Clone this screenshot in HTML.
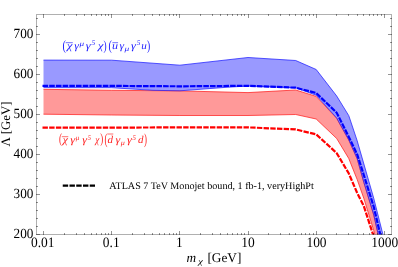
<!DOCTYPE html>
<html><head><meta charset="utf-8"><style>
html,body{margin:0;padding:0;background:#fff;}
svg{display:block;font-family:"Liberation Serif",serif;text-rendering:geometricPrecision;will-change:transform;}
</style></head><body>
<svg width="398" height="267" viewBox="0 0 398 267">
<rect width="398" height="267" fill="#fff"/>
<defs><clipPath id="c"><rect x="36.5" y="14.6" width="355.0" height="219.8"/></clipPath></defs>
<g clip-path="url(#c)">
<polygon points="43.5,89.3 111.7,90.3 179.9,90.9 248.0,92.6 295.7,90.0 316.2,96.4 336.7,118.4 348.7,140.0 357.2,158.9 363.8,182.4 373.8,215.3 384.4,261.9 384.4,272.0 373.8,230.7 363.8,198.3 357.2,179.6 348.7,158.4 336.7,138.5 316.2,119.0 295.7,114.5 248.0,115.5 179.9,115.5 111.7,115.0 43.5,114.2" fill="#ff9999"/>
<polygon points="43.5,60.1 111.7,60.2 179.9,65.2 248.0,57.5 295.7,60.5 316.2,69.5 336.7,96.0 348.8,115.7 357.2,140.8 373.8,198.5 384.4,240.3 384.4,261.5 373.8,214.9 363.8,182.0 357.2,158.5 348.7,139.6 336.7,118.0 316.2,95.2 295.7,87.8 248.0,86.0 228.0,87.2 179.9,90.8 153.0,90.3 111.7,87.7 43.5,87.6" fill="#9999ff"/>
<g fill="none" stroke-width="0.75">
<polyline points="43.5,89.3 111.7,90.3 179.9,90.9 248.0,92.6 295.7,90.0 316.2,96.4 336.7,118.4 348.7,140.0 357.2,158.9 363.8,182.4 373.8,215.3 384.4,261.9" stroke="#ff2020"/>
<polyline points="43.5,114.2 111.7,115.0 179.9,115.5 248.0,115.5 295.7,114.5 316.2,119.0 336.7,138.5 348.7,158.4 357.2,179.6 363.8,198.3 373.8,230.7 384.4,272.0" stroke="#ff2020"/>
<polyline points="43.5,60.1 111.7,60.2 179.9,65.2 248.0,57.5 295.7,60.5 316.2,69.5 336.7,96.0 348.8,115.7 357.2,140.8 373.8,198.5 384.4,240.3" stroke="#2020ff"/>
<polyline points="43.5,87.6 111.7,87.7 153.0,90.3 179.9,90.8 228.0,87.2 248.0,86.0 295.7,87.8 316.2,95.2 336.7,118.0 348.7,139.6 357.2,158.5 363.8,182.0 373.8,214.9 384.4,261.5" stroke="#2020ff"/>
</g>
<polyline points="42.5,127.6 111.7,127.6 179.9,127.4 248.0,127.4 295.7,129.4 316.2,134.4 336.7,153.1 348.7,173.3 357.2,193.0 363.8,206.0 373.8,236.9 384.4,270.6" fill="none" stroke="#ff0000" stroke-width="2.2" stroke-dasharray="5.4 1.3"/>
<polyline points="42.5,85.9 111.7,85.9 179.9,86.3 248.0,85.8 295.7,87.7 316.2,93.0 336.7,112.8 348.7,136.7 357.2,154.5 363.8,175.0 373.8,207.0 384.4,252.0" fill="none" stroke="#0000ff" stroke-width="2.2" stroke-dasharray="5.6 1.1"/>
</g>
<g stroke="#000" stroke-opacity="0.31" stroke-width="1" fill="none">
<rect x="36.5" y="14.5" width="355.0" height="220.0"/>
</g>
<g stroke="#000" stroke-opacity="0.42" stroke-width="1" fill="none">
<line x1="36.0" y1="234.5" x2="40.0" y2="234.5"/><line x1="392.0" y1="234.5" x2="388.0" y2="234.5"/><line x1="36.0" y1="226.5" x2="38.0" y2="226.5"/><line x1="392.0" y1="226.5" x2="390.0" y2="226.5"/><line x1="36.0" y1="218.5" x2="38.0" y2="218.5"/><line x1="392.0" y1="218.5" x2="390.0" y2="218.5"/><line x1="36.0" y1="210.5" x2="38.0" y2="210.5"/><line x1="392.0" y1="210.5" x2="390.0" y2="210.5"/><line x1="36.0" y1="202.5" x2="38.0" y2="202.5"/><line x1="392.0" y1="202.5" x2="390.0" y2="202.5"/><line x1="36.0" y1="194.5" x2="40.0" y2="194.5"/><line x1="392.0" y1="194.5" x2="388.0" y2="194.5"/><line x1="36.0" y1="186.5" x2="38.0" y2="186.5"/><line x1="392.0" y1="186.5" x2="390.0" y2="186.5"/><line x1="36.0" y1="178.5" x2="38.0" y2="178.5"/><line x1="392.0" y1="178.5" x2="390.0" y2="178.5"/><line x1="36.0" y1="170.5" x2="38.0" y2="170.5"/><line x1="392.0" y1="170.5" x2="390.0" y2="170.5"/><line x1="36.0" y1="162.5" x2="38.0" y2="162.5"/><line x1="392.0" y1="162.5" x2="390.0" y2="162.5"/><line x1="36.0" y1="154.5" x2="40.0" y2="154.5"/><line x1="392.0" y1="154.5" x2="388.0" y2="154.5"/><line x1="36.0" y1="146.5" x2="38.0" y2="146.5"/><line x1="392.0" y1="146.5" x2="390.0" y2="146.5"/><line x1="36.0" y1="138.5" x2="38.0" y2="138.5"/><line x1="392.0" y1="138.5" x2="390.0" y2="138.5"/><line x1="36.0" y1="130.5" x2="38.0" y2="130.5"/><line x1="392.0" y1="130.5" x2="390.0" y2="130.5"/><line x1="36.0" y1="122.5" x2="38.0" y2="122.5"/><line x1="392.0" y1="122.5" x2="390.0" y2="122.5"/><line x1="36.0" y1="114.5" x2="40.0" y2="114.5"/><line x1="392.0" y1="114.5" x2="388.0" y2="114.5"/><line x1="36.0" y1="106.5" x2="38.0" y2="106.5"/><line x1="392.0" y1="106.5" x2="390.0" y2="106.5"/><line x1="36.0" y1="98.5" x2="38.0" y2="98.5"/><line x1="392.0" y1="98.5" x2="390.0" y2="98.5"/><line x1="36.0" y1="90.5" x2="38.0" y2="90.5"/><line x1="392.0" y1="90.5" x2="390.0" y2="90.5"/><line x1="36.0" y1="82.5" x2="38.0" y2="82.5"/><line x1="392.0" y1="82.5" x2="390.0" y2="82.5"/><line x1="36.0" y1="74.5" x2="40.0" y2="74.5"/><line x1="392.0" y1="74.5" x2="388.0" y2="74.5"/><line x1="36.0" y1="66.5" x2="38.0" y2="66.5"/><line x1="392.0" y1="66.5" x2="390.0" y2="66.5"/><line x1="36.0" y1="58.5" x2="38.0" y2="58.5"/><line x1="392.0" y1="58.5" x2="390.0" y2="58.5"/><line x1="36.0" y1="50.5" x2="38.0" y2="50.5"/><line x1="392.0" y1="50.5" x2="390.0" y2="50.5"/><line x1="36.0" y1="42.5" x2="38.0" y2="42.5"/><line x1="392.0" y1="42.5" x2="390.0" y2="42.5"/><line x1="36.0" y1="34.5" x2="40.0" y2="34.5"/><line x1="392.0" y1="34.5" x2="388.0" y2="34.5"/><line x1="36.0" y1="26.5" x2="38.0" y2="26.5"/><line x1="392.0" y1="26.5" x2="390.0" y2="26.5"/><line x1="36.0" y1="18.5" x2="38.0" y2="18.5"/><line x1="392.0" y1="18.5" x2="390.0" y2="18.5"/><line x1="43.5" y1="235.0" x2="43.5" y2="231.0"/><line x1="43.5" y1="14.0" x2="43.5" y2="18.0"/><line x1="64.5" y1="235.0" x2="64.5" y2="233.0"/><line x1="64.5" y1="14.0" x2="64.5" y2="16.0"/><line x1="76.5" y1="235.0" x2="76.5" y2="233.0"/><line x1="76.5" y1="14.0" x2="76.5" y2="16.0"/><line x1="84.5" y1="235.0" x2="84.5" y2="233.0"/><line x1="84.5" y1="14.0" x2="84.5" y2="16.0"/><line x1="91.5" y1="235.0" x2="91.5" y2="233.0"/><line x1="91.5" y1="14.0" x2="91.5" y2="16.0"/><line x1="96.5" y1="235.0" x2="96.5" y2="233.0"/><line x1="96.5" y1="14.0" x2="96.5" y2="16.0"/><line x1="101.5" y1="235.0" x2="101.5" y2="233.0"/><line x1="101.5" y1="14.0" x2="101.5" y2="16.0"/><line x1="105.5" y1="235.0" x2="105.5" y2="233.0"/><line x1="105.5" y1="14.0" x2="105.5" y2="16.0"/><line x1="108.5" y1="235.0" x2="108.5" y2="233.0"/><line x1="108.5" y1="14.0" x2="108.5" y2="16.0"/><line x1="111.5" y1="235.0" x2="111.5" y2="231.0"/><line x1="111.5" y1="14.0" x2="111.5" y2="18.0"/><line x1="132.5" y1="235.0" x2="132.5" y2="233.0"/><line x1="132.5" y1="14.0" x2="132.5" y2="16.0"/><line x1="144.5" y1="235.0" x2="144.5" y2="233.0"/><line x1="144.5" y1="14.0" x2="144.5" y2="16.0"/><line x1="152.5" y1="235.0" x2="152.5" y2="233.0"/><line x1="152.5" y1="14.0" x2="152.5" y2="16.0"/><line x1="159.5" y1="235.0" x2="159.5" y2="233.0"/><line x1="159.5" y1="14.0" x2="159.5" y2="16.0"/><line x1="164.5" y1="235.0" x2="164.5" y2="233.0"/><line x1="164.5" y1="14.0" x2="164.5" y2="16.0"/><line x1="169.5" y1="235.0" x2="169.5" y2="233.0"/><line x1="169.5" y1="14.0" x2="169.5" y2="16.0"/><line x1="173.5" y1="235.0" x2="173.5" y2="233.0"/><line x1="173.5" y1="14.0" x2="173.5" y2="16.0"/><line x1="176.5" y1="235.0" x2="176.5" y2="233.0"/><line x1="176.5" y1="14.0" x2="176.5" y2="16.0"/><line x1="179.5" y1="235.0" x2="179.5" y2="231.0"/><line x1="179.5" y1="14.0" x2="179.5" y2="18.0"/><line x1="200.5" y1="235.0" x2="200.5" y2="233.0"/><line x1="200.5" y1="14.0" x2="200.5" y2="16.0"/><line x1="212.5" y1="235.0" x2="212.5" y2="233.0"/><line x1="212.5" y1="14.0" x2="212.5" y2="16.0"/><line x1="220.5" y1="235.0" x2="220.5" y2="233.0"/><line x1="220.5" y1="14.0" x2="220.5" y2="16.0"/><line x1="227.5" y1="235.0" x2="227.5" y2="233.0"/><line x1="227.5" y1="14.0" x2="227.5" y2="16.0"/><line x1="232.5" y1="235.0" x2="232.5" y2="233.0"/><line x1="232.5" y1="14.0" x2="232.5" y2="16.0"/><line x1="237.5" y1="235.0" x2="237.5" y2="233.0"/><line x1="237.5" y1="14.0" x2="237.5" y2="16.0"/><line x1="241.5" y1="235.0" x2="241.5" y2="233.0"/><line x1="241.5" y1="14.0" x2="241.5" y2="16.0"/><line x1="244.5" y1="235.0" x2="244.5" y2="233.0"/><line x1="244.5" y1="14.0" x2="244.5" y2="16.0"/><line x1="248.5" y1="235.0" x2="248.5" y2="231.0"/><line x1="248.5" y1="14.0" x2="248.5" y2="18.0"/><line x1="268.5" y1="235.0" x2="268.5" y2="233.0"/><line x1="268.5" y1="14.0" x2="268.5" y2="16.0"/><line x1="280.5" y1="235.0" x2="280.5" y2="233.0"/><line x1="280.5" y1="14.0" x2="280.5" y2="16.0"/><line x1="289.5" y1="235.0" x2="289.5" y2="233.0"/><line x1="289.5" y1="14.0" x2="289.5" y2="16.0"/><line x1="295.5" y1="235.0" x2="295.5" y2="233.0"/><line x1="295.5" y1="14.0" x2="295.5" y2="16.0"/><line x1="301.5" y1="235.0" x2="301.5" y2="233.0"/><line x1="301.5" y1="14.0" x2="301.5" y2="16.0"/><line x1="305.5" y1="235.0" x2="305.5" y2="233.0"/><line x1="305.5" y1="14.0" x2="305.5" y2="16.0"/><line x1="309.5" y1="235.0" x2="309.5" y2="233.0"/><line x1="309.5" y1="14.0" x2="309.5" y2="16.0"/><line x1="313.5" y1="235.0" x2="313.5" y2="233.0"/><line x1="313.5" y1="14.0" x2="313.5" y2="16.0"/><line x1="316.5" y1="235.0" x2="316.5" y2="231.0"/><line x1="316.5" y1="14.0" x2="316.5" y2="18.0"/><line x1="336.5" y1="235.0" x2="336.5" y2="233.0"/><line x1="336.5" y1="14.0" x2="336.5" y2="16.0"/><line x1="348.5" y1="235.0" x2="348.5" y2="233.0"/><line x1="348.5" y1="14.0" x2="348.5" y2="16.0"/><line x1="357.5" y1="235.0" x2="357.5" y2="233.0"/><line x1="357.5" y1="14.0" x2="357.5" y2="16.0"/><line x1="363.5" y1="235.0" x2="363.5" y2="233.0"/><line x1="363.5" y1="14.0" x2="363.5" y2="16.0"/><line x1="369.5" y1="235.0" x2="369.5" y2="233.0"/><line x1="369.5" y1="14.0" x2="369.5" y2="16.0"/><line x1="373.5" y1="235.0" x2="373.5" y2="233.0"/><line x1="373.5" y1="14.0" x2="373.5" y2="16.0"/><line x1="377.5" y1="235.0" x2="377.5" y2="233.0"/><line x1="377.5" y1="14.0" x2="377.5" y2="16.0"/><line x1="381.5" y1="235.0" x2="381.5" y2="233.0"/><line x1="381.5" y1="14.0" x2="381.5" y2="16.0"/><line x1="384.5" y1="235.0" x2="384.5" y2="231.0"/><line x1="384.5" y1="14.0" x2="384.5" y2="18.0"/>
</g>
<g font-size="13.2px" fill="#000">
<text transform="translate(33.4,238.15) scale(1,1.06)" text-anchor="end">200</text><text transform="translate(33.4,198.15) scale(1,1.06)" text-anchor="end">300</text><text transform="translate(33.4,158.15) scale(1,1.06)" text-anchor="end">400</text><text transform="translate(33.4,118.15) scale(1,1.06)" text-anchor="end">500</text><text transform="translate(33.4,78.15) scale(1,1.06)" text-anchor="end">600</text><text transform="translate(33.4,38.15) scale(1,1.06)" text-anchor="end">700</text>
<text transform="translate(42.7,246.7) scale(1.02,1.08)" text-anchor="middle">0.01</text><text transform="translate(111.2,246.7) scale(1.02,1.08)" text-anchor="middle">0.1</text><text transform="translate(179.4,246.7) scale(1.02,1.08)" text-anchor="middle">1</text><text transform="translate(247.9,246.7) scale(1.02,1.08)" text-anchor="middle">10</text><text transform="translate(316.5,246.7) scale(1.02,1.08)" text-anchor="middle">100</text><text transform="translate(384.7,246.7) scale(1.02,1.08)" text-anchor="middle">1000</text>
<text transform="translate(9.7,124) rotate(-90)" text-anchor="middle" font-size="12.9px">&#923; [GeV]</text>
<text x="186.6" y="261.5" font-size="13.3px" font-style="italic">m</text><text transform="translate(198.13,264.30) scale(1.263,1.000)" font-size="8.2px" font-style="italic" fill="#000">&#967;</text><text x="207.4" y="261.5" font-size="13.3px">[GeV]</text>
</g>
<line x1="62.75" y1="185.6" x2="95" y2="185.6" stroke="#000" stroke-width="2.2" stroke-dasharray="5.4 1.35"/>
<text x="109.3" y="188.6" font-size="10.1px" fill="#000" textLength="204.5" lengthAdjust="spacingAndGlyphs">ATLAS 7 TeV Monojet bound, 1 fb-1, veryHighPt</text>
<text transform="translate(62.44,50.19) scale(0.751,1.008)" font-size="14.0px" font-style="normal" fill="#2222ff">(</text><text transform="translate(66.98,49.10) scale(1.185,1.000)" font-size="10.3px" font-style="italic" fill="#2222ff">&#967;</text><line x1="65.70" y1="42.70" x2="72.80" y2="42.70" stroke="#2222ff" stroke-width="0.65"/><text transform="translate(74.29,49.10) scale(1.147,1.000)" font-size="10.3px" font-style="italic" fill="#2222ff">&#947;</text><text transform="translate(79.61,45.70) scale(1.254,1.000)" font-size="7.3px" font-style="italic" fill="#2222ff">&#956;</text><text transform="translate(85.78,49.10) scale(1.195,1.000)" font-size="10.3px" font-style="italic" fill="#2222ff">&#947;</text><text transform="translate(91.59,45.40) scale(0.994,1.000)" font-size="7.3px" font-style="italic" fill="#2222ff">5</text><text transform="translate(98.08,49.10) scale(1.185,1.000)" font-size="10.3px" font-style="italic" fill="#2222ff">&#967;</text><text transform="translate(103.50,50.09) scale(0.667,0.977)" font-size="14.0px" font-style="normal" fill="#2222ff">)</text><text transform="translate(108.56,50.24) scale(0.723,0.993)" font-size="14.0px" font-style="normal" fill="#2222ff">(</text><text transform="translate(112.00,49.10) scale(1.172,1.000)" font-size="10.3px" font-style="italic" fill="#2222ff">u</text><line x1="112.40" y1="42.70" x2="118.10" y2="42.70" stroke="#2222ff" stroke-width="0.65"/><text transform="translate(119.49,49.10) scale(1.122,1.000)" font-size="10.3px" font-style="italic" fill="#2222ff">&#947;</text><text transform="translate(124.61,51.30) scale(1.283,1.000)" font-size="7.3px" font-style="italic" fill="#2222ff">&#956;</text><text transform="translate(130.98,49.10) scale(1.195,1.000)" font-size="10.3px" font-style="italic" fill="#2222ff">&#947;</text><text transform="translate(136.79,45.40) scale(0.964,1.000)" font-size="7.3px" font-style="italic" fill="#2222ff">5</text><text transform="translate(141.35,49.10) scale(1.079,1.000)" font-size="10.3px" font-style="italic" fill="#2222ff">u</text><text transform="translate(146.99,50.04) scale(0.695,0.993)" font-size="14.0px" font-style="normal" fill="#2222ff">)</text>
<text transform="translate(58.91,143.44) scale(0.640,0.993)" font-size="14.0px" font-style="normal" fill="#ff2222">(</text><text transform="translate(62.83,143.20) scale(1.132,1.000)" font-size="10.3px" font-style="italic" fill="#ff2222">&#967;</text><line x1="61.80" y1="136.70" x2="68.30" y2="136.70" stroke="#ff2222" stroke-width="0.65"/><text transform="translate(70.27,143.20) scale(1.220,1.000)" font-size="10.3px" font-style="italic" fill="#ff2222">&#947;</text><text transform="translate(75.81,139.80) scale(0.962,1.000)" font-size="7.3px" font-style="italic" fill="#ff2222">&#956;</text><text transform="translate(82.18,143.20) scale(1.171,1.000)" font-size="10.3px" font-style="italic" fill="#ff2222">&#947;</text><text transform="translate(87.80,139.50) scale(0.874,1.000)" font-size="7.3px" font-style="italic" fill="#ff2222">5</text><text transform="translate(95.14,143.20) scale(0.898,1.000)" font-size="10.3px" font-style="italic" fill="#ff2222">&#967;</text><text transform="translate(100.21,143.44) scale(0.640,0.993)" font-size="14.0px" font-style="normal" fill="#ff2222">)</text><text transform="translate(104.51,143.74) scale(0.640,1.095)" font-size="14.0px" font-style="normal" fill="#ff2222">(</text><text transform="translate(107.57,143.20) scale(1.069,1.000)" font-size="10.3px" font-style="italic" fill="#ff2222">d</text><line x1="107.40" y1="134.00" x2="113.30" y2="134.00" stroke="#ff2222" stroke-width="0.65"/><text transform="translate(115.48,143.20) scale(1.171,1.000)" font-size="10.3px" font-style="italic" fill="#ff2222">&#947;</text><text transform="translate(120.81,145.40) scale(1.108,1.000)" font-size="7.3px" font-style="italic" fill="#ff2222">&#956;</text><text transform="translate(126.98,143.20) scale(1.195,1.000)" font-size="10.3px" font-style="italic" fill="#ff2222">&#947;</text><text transform="translate(132.49,139.50) scale(0.934,1.000)" font-size="7.3px" font-style="italic" fill="#ff2222">5</text><text transform="translate(137.97,143.20) scale(1.069,1.000)" font-size="10.3px" font-style="italic" fill="#ff2222">d</text><text transform="translate(143.91,143.74) scale(0.640,1.095)" font-size="14.0px" font-style="normal" fill="#ff2222">)</text>
</svg>
</body></html>
